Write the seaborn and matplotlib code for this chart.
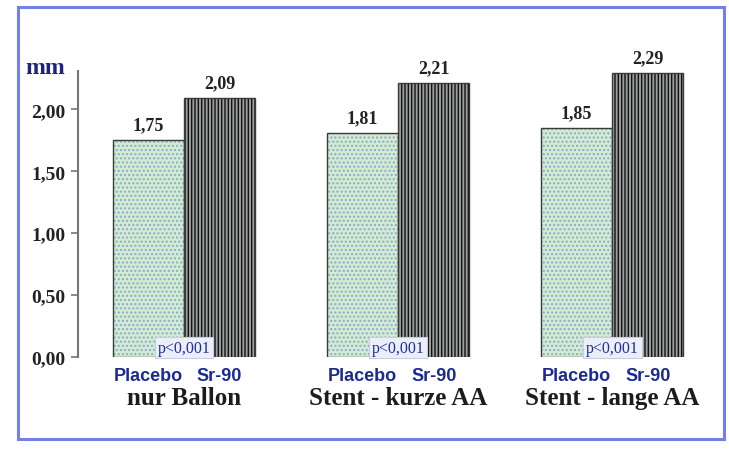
import matplotlib
matplotlib.use("Agg")
import matplotlib.pyplot as plt
from matplotlib.patches import Rectangle
from matplotlib.colors import to_rgba
import seaborn as sns
import pandas as pd

# Data
groups = ["nur Ballon", "Stent - kurze AA", "Stent - lange AA"]
treatments = ["Placebo", "Sr-90"]
placebo = [1.75, 1.81, 1.85]
sr90 = [2.09, 2.21, 2.29]
value_labels_placebo = ["1,75", "1,81", "1,85"]
value_labels_sr90 = ["2,09", "2,21", "2,29"]
p_labels = ["p<0,001", "p<0,001", "p<0,001"]
yticks = [0.0, 0.5, 1.0, 1.5, 2.0]
ytick_labels = ["0,00", "0,50", "1,00", "1,50", "2,00"]

df = pd.DataFrame({
    "group": groups * 2,
    "treatment": ["Placebo"] * 3 + ["Sr-90"] * 3,
    "mm": placebo + sr90,
    "label": value_labels_placebo + value_labels_sr90,
})

sns.set_style("white")
plt.rcParams["font.family"] = ["Liberation Serif", "DejaVu Serif"]
plt.rcParams["hatch.linewidth"] = 1.0

W, H = 729, 452
fig = plt.figure(figsize=(W / 100, H / 100), dpi=100)
ax = fig.add_axes([78 / W, 94 / H, (700 - 78) / W, (380 - 94) / H])

sns.barplot(data=df, x="group", y="mm", hue="treatment", order=groups,
            hue_order=treatments, palette={"Placebo": "#c9f3c9", "Sr-90": "#9a9f9d"},
            width=0.664, edgecolor="#3a3a3a", linewidth=1.0, legend=False,
            errorbar=None, ax=ax)

bars = [p for p in ax.patches if isinstance(p, Rectangle)]
placebo_bars = bars[:3]
sr_bars = bars[3:6]
for p in placebo_bars:
    p.set_hatch("....")
    p._hatch_color = to_rgba("#9aa0da")
for p in sr_bars:
    p.set_hatch("|||||")
    p._hatch_color = to_rgba("#111111")

ax.set_ylim(0, 2.31)
ax.set_xlim(-0.495, 2.41)
ax.set_xlabel("")
ax.set_ylabel("")
ax.set_xticks([])
ax.set_yticks(yticks)
ax.set_yticklabels(ytick_labels, fontsize=14, fontweight="bold", color="#222222")
ax.tick_params(axis="y", left=True, direction="out", length=5, width=1.2,
               color="#777777", pad=4)
for side in ["top", "right", "bottom"]:
    ax.spines[side].set_visible(False)
ax.spines["left"].set_color("#777777")
ax.spines["left"].set_linewidth(1.5)
ax.patch.set_alpha(0)

# Value labels above bars
for p, lab in zip(placebo_bars + sr_bars, value_labels_placebo + value_labels_sr90):
    ax.annotate(lab, (p.get_x() + p.get_width() / 2, p.get_height()),
                xytext=(0, 5), textcoords="offset points", ha="center", va="bottom",
                fontsize=13, fontweight="bold", color="#222222")

# Significance boxes straddling each pair, treatment and group labels below
trans = ax.get_xaxis_transform()
for i, (pb, sb) in enumerate(zip(placebo_bars, sr_bars)):
    xc = pb.get_x() + pb.get_width()
    ax.text(xc, 0.012, p_labels[i], transform=ax.transData, ha="center", va="bottom",
            fontsize=11.5, color="#1f2f9a",
            bbox=dict(boxstyle="square,pad=0.18", fc="#eceef8", ec="#c8cce0", lw=0.8))
    ax.text(pb.get_x() + pb.get_width() / 2, -0.065, treatments[0], transform=trans,
            ha="center", va="center", fontsize=13, fontweight="bold", color="#1a2a92",
            family=["Liberation Sans", "DejaVu Sans"])
    ax.text(sb.get_x() + sb.get_width() / 2, -0.065, treatments[1], transform=trans,
            ha="center", va="center", fontsize=13, fontweight="bold", color="#1a2a92",
            family=["Liberation Sans", "DejaVu Sans"])
    ax.text(xc, -0.14, groups[i], transform=trans, ha="center", va="center",
            fontsize=18, fontweight="bold", color="#1c1c1c")

# Unit label
fig.text(45 / W, 1 - 68 / H, "mm", ha="center", va="center", fontsize=17,
         fontweight="bold", color="#1a237e")

# Frame around the chart
fig.patches.append(Rectangle((18 / W, 1 - 440 / H), (724 - 18) / W, (440 - 8) / H,
                             transform=fig.transFigure, fill=False,
                             ec="#7380e4", lw=2.2))

fig.savefig("out.png", dpi=100)
